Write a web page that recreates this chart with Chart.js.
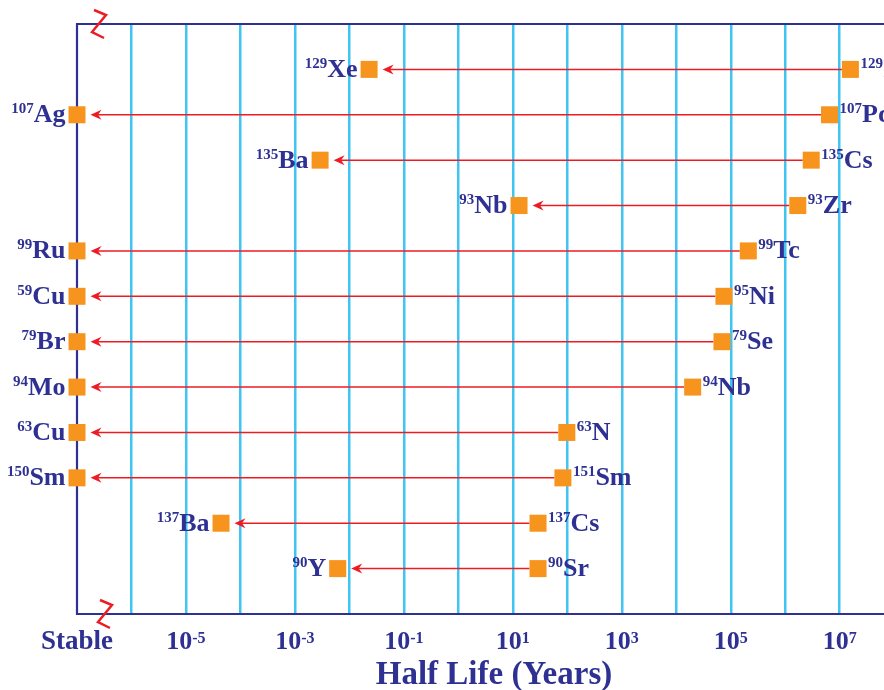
<!DOCTYPE html>
<html>
<head>
<meta charset="utf-8">
<script src="https://cdn.jsdelivr.net/npm/chart.js@4.4.1/dist/chart.umd.min.js"></script>
<style>
  html, body { margin: 0; padding: 0; background: #fff; overflow: hidden; }
  #wrap { width: 884px; height: 690px; }
</style>
</head>
<body>
<div id="wrap"><canvas id="chart"></canvas></div>
<script>
// ---- Data ----
const rows = [1, 2, 3, 4, 5, 6, 7, 8, 9, 10, 11, 12];
const parentMass = ['129', '107', '135', '93', '99', '95', '79', '94', '63', '151', '137', '90'];
const parentName = ['I', 'Pd', 'Cs', 'Zr', 'Tc', 'Ni', 'Se', 'Nb', 'N', 'Sm', 'Cs', 'Sr'];
const parentHalfLife = [1.57e7, 6.5e6, 3.0e6, 1.7e6, 2.1e5, 7.5e4, 6.9e4, 2.0e4, 98, 83, 29, 29];
const daughterMass = ['129', '107', '135', '93', '99', '59', '79', '94', '63', '150', '137', '90'];
const daughterName = ['Xe', 'Ag', 'Ba', 'Nb', 'Ru', 'Cu', 'Br', 'Mo', 'Cu', 'Sm', 'Ba', 'Y'];
// null = stable (drawn on the broken left edge)
const daughterHalfLife = [0.023, null, 0.0029, 13, null, null, null, null, null, null, 4.4e-5, 0.0061];
const tickExponents = [-5, -3, -1, 1, 3, 5, 7];
const gridExponents = [-6, -5, -4, -3, -2, -1, 0, 1, 2, 3, 4, 5, 6, 7];
const STABLE = 1e-7;
const X_MAX = 6.5e7;

// ---- Styles ----
const NAVY = '#2e3192';
const RED = '#ed1c24';
const ORANGE = '#f7941d';
const CYAN = '#40c5f2';
const SERIF = '"Liberation Serif", "DejaVu Serif", serif';
const HALF = 8.5; // half side of the squares

const daughterX = daughterHalfLife.map(v => v ?? STABLE);

function drawIso(ctx, mass, name, x, y, align, big, small) {
  ctx.font = `bold ${small}px ${SERIF}`;
  const wm = ctx.measureText(mass).width;
  ctx.font = `bold ${big}px ${SERIF}`;
  const wn = ctx.measureText(name).width;
  const x0 = align === 'right' ? x - wm - wn : x;
  ctx.textAlign = 'left';
  ctx.textBaseline = 'alphabetic';
  ctx.font = `bold ${small}px ${SERIF}`;
  ctx.fillText(mass, x0, y - 1.5);
  ctx.font = `bold ${big}px ${SERIF}`;
  ctx.fillText(name, x0 + wm, y + 7.5);
}

const decorPlugin = {
  id: 'decor',
  beforeDatasetsDraw(chart) {
    const { ctx, chartArea: a, scales: { x, y } } = chart;
    ctx.save();
    // frame
    ctx.strokeStyle = NAVY;
    ctx.lineWidth = 2.2;
    ctx.beginPath();
    ctx.moveTo(chart.width, a.top);
    ctx.lineTo(a.left, a.top);
    ctx.lineTo(a.left, a.bottom);
    ctx.lineTo(chart.width, a.bottom);
    ctx.stroke();
    // decay arrows
    ctx.strokeStyle = RED;
    ctx.fillStyle = RED;
    ctx.lineWidth = 1.5;
    rows.forEach((r, i) => {
      const py = y.getPixelForValue(r);
      const from = x.getPixelForValue(parentHalfLife[i]) - HALF;
      const tip = x.getPixelForValue(daughterX[i]) + HALF + 5;
      ctx.beginPath();
      ctx.moveTo(from, py);
      ctx.lineTo(tip + 6, py);
      ctx.stroke();
      ctx.beginPath();
      ctx.moveTo(tip, py);
      ctx.lineTo(tip + 11, py - 5);
      ctx.lineTo(tip + 7.5, py);
      ctx.lineTo(tip + 11, py + 5);
      ctx.closePath();
      ctx.fill();
    });
    // axis break marks
    ctx.strokeStyle = RED;
    ctx.lineWidth = 2.5;
    [[a.left + 17, a.top], [a.left + 23, a.bottom]].forEach(([bx, by]) => {
      ctx.beginPath();
      ctx.moveTo(bx, by - 14);
      ctx.lineTo(bx + 12, by - 9);
      ctx.lineTo(bx - 2, by + 8);
      ctx.lineTo(bx + 10, by + 14);
      ctx.stroke();
    });
    ctx.restore();
  },
  afterDatasetsDraw(chart) {
    const { ctx, chartArea: a, scales: { x, y } } = chart;
    ctx.save();
    ctx.fillStyle = NAVY;
    rows.forEach((r, i) => {
      const py = y.getPixelForValue(r);
      drawIso(ctx, parentMass[i], parentName[i], x.getPixelForValue(parentHalfLife[i]) + HALF + 1.5, py, 'left', 26, 15);
      drawIso(ctx, daughterMass[i], daughterName[i], x.getPixelForValue(daughterX[i]) - HALF - 3, py, 'right', 26, 15);
    });
    // tick labels
    const base = a.bottom + 35;
    ctx.textBaseline = 'alphabetic';
    ctx.textAlign = 'center';
    ctx.font = `bold 27px ${SERIF}`;
    ctx.fillText('Stable', x.getPixelForValue(STABLE), base);
    tickExponents.forEach(e => {
      const px = x.getPixelForValue(Math.pow(10, e));
      const exp = String(e);
      ctx.font = `bold 26px ${SERIF}`;
      const w1 = ctx.measureText('10').width;
      ctx.font = `bold 16px ${SERIF}`;
      const w2 = ctx.measureText(exp).width;
      const x0 = px - (w1 + w2) / 2;
      ctx.textAlign = 'left';
      ctx.font = `bold 26px ${SERIF}`;
      ctx.fillText('10', x0, base);
      ctx.font = `bold 16px ${SERIF}`;
      ctx.fillText(exp, x0 + w1, base - 6);
    });
    // axis title
    ctx.textAlign = 'center';
    ctx.font = `bold 33px ${SERIF}`;
    ctx.fillText('Half Life (Years)', 494, a.bottom + 70);
    ctx.restore();
  }
};

const squares = rows.flatMap((r, i) => [
  { x: parentHalfLife[i], y: r },
  { x: daughterX[i], y: r }
]);

new Chart(document.getElementById('chart'), {
  type: 'scatter',
  data: {
    datasets: [{
      data: squares,
      pointStyle: 'rect',
      pointRadius: HALF * Math.SQRT2,
      pointHoverRadius: HALF * Math.SQRT2,
      backgroundColor: ORANGE,
      borderWidth: 0,
      clip: false
    }]
  },
  options: {
    responsive: true,
    maintainAspectRatio: false,
    animation: false,
    events: [],
    layout: { autoPadding: false, padding: { left: 77, top: 24, right: 0, bottom: 76 } },
    plugins: { legend: { display: false }, tooltip: { enabled: false } },
    scales: {
      x: {
        type: 'logarithmic',
        min: STABLE,
        max: X_MAX,
        afterBuildTicks: (scale) => {
          scale.ticks = gridExponents.map(e => ({ value: Math.pow(10, e) }));
        },
        ticks: { display: false },
        border: { display: false },
        grid: { color: CYAN, lineWidth: 2.5, drawTicks: false }
      },
      y: {
        display: false,
        reverse: true,
        min: 0,
        max: 13
      }
    }
  },
  plugins: [decorPlugin]
});
</script>
</body>
</html>
